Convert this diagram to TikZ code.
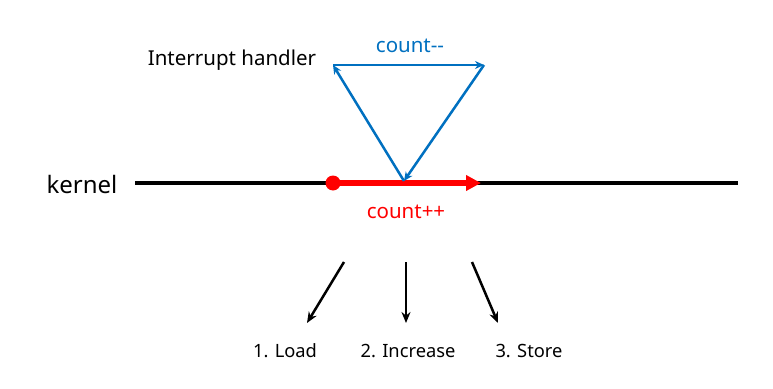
\documentclass[tikz,border=0pt]{standalone}
\usepackage{fontspec}
\setmainfont{Noto Sans}
\usetikzlibrary{arrows.meta, positioning, calc}
\definecolor{handlerblue}{RGB}{0,112,192}
\definecolor{countred}{RGB}{255,0,0}

\begin{document}
\begin{tikzpicture}[
    x=1pt, y=-1pt,
    lbl/.style={
        inner sep=0pt,
        font=\fontsize{20.5}{24}\selectfont
    },
    steplbl/.style={
        inner sep=0pt,
        font=\fontsize{18.3}{22}\selectfont
    },
    timeline/.style={
        line width=4pt,
        draw=black
    },
    incr/.style={
        -{Triangle[length=15pt,width=15pt]},
        line width=5.5pt,
        draw=countred
    },
    irq/.style={
        -{Stealth[length=9pt,width=8pt]},
        line width=2.5pt,
        draw=handlerblue
    },
    stepdir/.style={
        -{Stealth[length=11pt,width=9pt]},
        line width=2.5pt,
        draw=black
    }
]
\useasboundingbox (0,0) rectangle (773,388);

% Nodes
\node (kernel) [lbl, font=\fontsize{24}{28}\selectfont] at (82,184) {kernel};
\node (handler) [lbl] at (232,60) {Interrupt handler};
\node (dec) [lbl, text=handlerblue] at (410,46) {count{-}{-}};
\node (inc) [lbl, text=countred] at (406,212) {count++};
\node (load) [steplbl] at (285,351) {1. Load};
\node (increase) [steplbl] at (408,351) {2. Increase};
\node (store) [steplbl] at (529,351) {3. Store};

\coordinate (lstart) at (135,183);
\coordinate (lend) at (738,183);
\coordinate (pstart) at (333,183);
\coordinate (pend) at (481,183);
\coordinate (hit) at (404,181);
\coordinate (tl) at (333,65);
\coordinate (tr) at (484,65);

\coordinate (a1) at (344,262);
\coordinate (b1) at (307,323);
\coordinate (a2) at (406,262);
\coordinate (b2) at (406,323);
\coordinate (a3) at (472,262);
\coordinate (b3) at (498,323);

% Paths
\draw [timeline] (lstart) -- (lend);
\draw [incr] (pstart) -- (pend);
\fill [countred] (pstart) circle (7.5);
\draw [irq] (hit) -- (tl);
\draw [irq] (tl) -- (tr);
\draw [irq] (tr) -- (hit);
\draw [stepdir] (a1) -- (b1);
\draw [stepdir] (a2) -- (b2);
\draw [stepdir] (a3) -- (b3);

\end{tikzpicture}
\end{document}
